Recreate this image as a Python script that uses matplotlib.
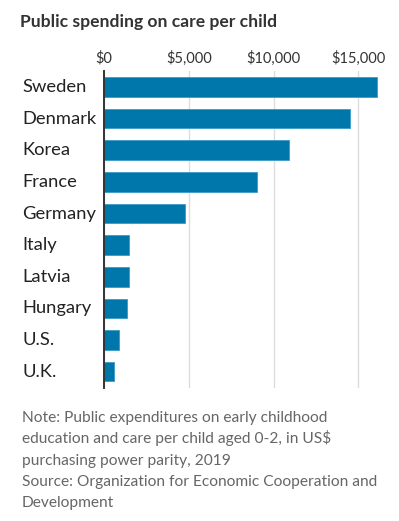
import matplotlib
matplotlib.use("Agg")
import matplotlib.pyplot as plt
import matplotlib.transforms as mtransforms

plt.rcParams['font.family'] = ['Lato', 'DejaVu Sans']

countries = ["Sweden", "Denmark", "Korea", "France", "Germany",
             "Italy", "Latvia", "Hungary", "U.S.", "U.K."]
spending = [16100, 14500, 10900, 9000, 4750, 1500, 1500, 1350, 900, 600]
ticks = [0, 5000, 10000, 15000]
tick_labels = ["$0", "$5,000", "$10,000", "$15,000"]

title = "Public spending on care per child"
note_lines = ["Note: Public expenditures on early childhood",
              "education and care per child aged 0-2, in US$",
              "purchasing power parity, 2019",
              "Source: Organization for Economic Cooperation and",
              "Development"]

W, H = 399, 521
fig = plt.figure(figsize=(W / 100, H / 100), dpi=100)

# axes placed in pixels: x=0 at 104px, 15000 at 358px
left, right = 104, 104 + 16500 * (254.3 / 15000)
top, bottom = 71.2, 387.5
ax = fig.add_axes([left / W, 1 - bottom / H, (right - left) / W, (bottom - top) / H])

ypos = list(range(len(countries)))
ax.barh(ypos, spending, height=0.62, color="#0077aa", edgecolor="#3a9cc8",
        linewidth=0.6, zorder=3)
ax.set_ylim(len(countries) - 0.5, -0.5)
ax.set_xlim(0, 16500)

ax.set_xticks(ticks)
ax.set_xticklabels(tick_labels)
ax.xaxis.tick_top()
ax.tick_params(axis="x", length=0, pad=4, labelsize=10.5, labelcolor="#333333")
ax.set_yticks([])
ax.grid(axis="x", color="#dddddd", linewidth=1, zorder=0)

for s in ["top", "right", "bottom"]:
    ax.spines[s].set_visible(False)
ax.spines["left"].set_color("#333333")
ax.spines["left"].set_linewidth(1.4)
ax.spines["left"].set_zorder(4)

trans = mtransforms.blended_transform_factory(fig.transFigure, ax.transData)
for y, name in zip(ypos, countries):
    ax.text(22 / W, y, name, transform=trans, ha="left", va="center",
            fontsize=13.2, color="#222222")

fig.text(20 / W, 1 - 22 / H, title, ha="left", va="center",
         fontsize=12.6, fontweight="bold", color="#333333")

# one line at a time so the spacing stays even
for i, line in enumerate(note_lines):
    fig.text(22 / W, 1 - (421.7 + 21.4 * i) / H, line, ha="left",
             va="baseline", fontsize=11.2, color="#666666")

fig.savefig("out.png", dpi=100)
